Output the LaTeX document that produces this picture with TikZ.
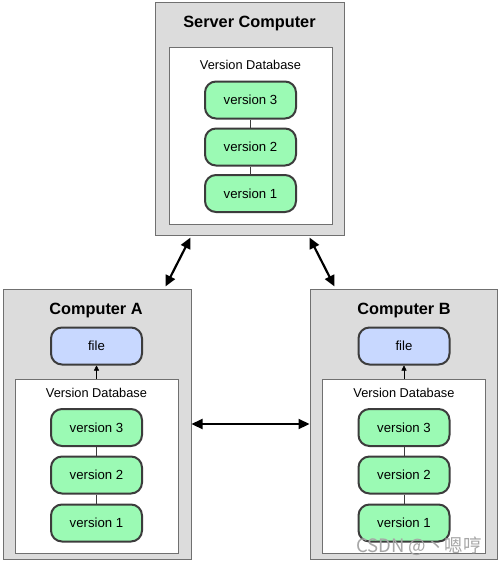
\documentclass[tikz,border=0pt]{standalone}
\usepackage{fontspec}
\setmainfont{Liberation Sans}
\newfontfamily\cjk{Noto Sans CJK SC}
\usetikzlibrary{arrows.meta}
\definecolor{boxgray}{RGB}{220,220,220}
\definecolor{boxedge}{RGB}{112,112,112}
\definecolor{pilledge}{RGB}{60,60,60}
\definecolor{vgreen}{RGB}{155,250,180}
\definecolor{fblue}{RGB}{200,216,255}
\tikzset{
    machine/.style={draw=boxedge, fill=boxgray, line width=1pt, minimum height=233pt},
    dbbox/.style={draw=boxedge, fill=white, line width=1pt, minimum width=163pt},
    title/.style={font=\fontsize{16.3}{18}\selectfont\bfseries},
    dblabel/.style={font=\fontsize{12.8}{14}\selectfont},
    version/.style={draw=pilledge, line width=2pt, fill=vgreen, rounded corners=11pt,
        minimum width=91pt, minimum height=37pt, font=\fontsize{13.2}{15}\selectfont},
    filepill/.style={version, fill=fblue},
    link/.style={{Triangle[length=11pt,width=10pt]}-{Triangle[length=11pt,width=10pt]}, line width=2.2pt}
}
\begin{document}
\begin{tikzpicture}[x=1pt, y=-1pt]
                \useasboundingbox (0,0) rectangle (500,563);
                % server
                \node[machine, minimum width=189pt] (srv) at (249.5,118.5) {};
                \node[dbbox, minimum height=177pt] (srvdb) at (250.5,135.5) {};
                \node[title] (srvtitle) at (249.5,23) {Server Computer};
                \node[dblabel] (srvdbl) at (250.5,65) {Version Database};
                \node[version] (sv3) at (250.5,100) {version 3};
                \node[version] (sv2) at (250.5,147) {version 2};
                \node[version] (sv1) at (250.5,193.5) {version 1};
                \draw[pilledge] (sv3) -- (sv2);
                \draw[pilledge] (sv2) -- (sv1);
                % computer A
                \node[machine, minimum width=188pt, minimum height=270pt] (compA) at (97,424) {};
                \node[dbbox, minimum height=174pt] (adb) at (96.5,466) {};
                \node[title] (atitle) at (96,310) {Computer A};
                \node[filepill] (afile) at (96.5,346) {file};
                \node[dblabel] (adbl) at (96.5,393) {Version Database};
                \node[version] (av3) at (96.5,427.5) {version 3};
                \node[version] (av2) at (96.5,475) {version 2};
                \node[version] (av1) at (96.5,523) {version 1};
                \draw[pilledge] (av3) -- (av2);
                \draw[pilledge] (av2) -- (av1);
                \draw[-{Triangle[length=5pt,width=5pt]}] (adb.north) -- (afile.south);
                % computer B
                \node[machine, minimum width=187pt, minimum height=270pt] (compB) at (403.5,424) {};
                \node[dbbox, minimum height=174pt] (bdb) at (404,466) {};
                \node[title] (btitle) at (404,310) {Computer B};
                \node[filepill] (bfile) at (404,346) {file};
                \node[dblabel] (bdbl) at (404,393) {Version Database};
                \node[version] (bv3) at (404,427.5) {version 3};
                \node[version] (bv2) at (404,475) {version 2};
                \node[version] (bv1) at (404,523) {version 1};
                \draw[pilledge] (bv3) -- (bv2);
                \draw[pilledge] (bv2) -- (bv1);
                \draw[-{Triangle[length=5pt,width=5pt]}] (bdb.north) -- (bfile.south);
                % links
                \draw[link] ([xshift=36pt,yshift=-2pt]srv.south west) -- ([xshift=-26pt,yshift=2pt]compA.north east);
                \draw[link] ([xshift=-35pt,yshift=-2pt]srv.south east) -- ([xshift=25pt,yshift=2pt]compB.north west);
                \draw[link] (compA.east) -- (compB.west);
                \node[text=gray!70, font=\cjk\fontsize{18.5}{20}\selectfont] (mark) at (419,546) {CSDN @丶嗯哼};
            \end{tikzpicture}
\end{document}
